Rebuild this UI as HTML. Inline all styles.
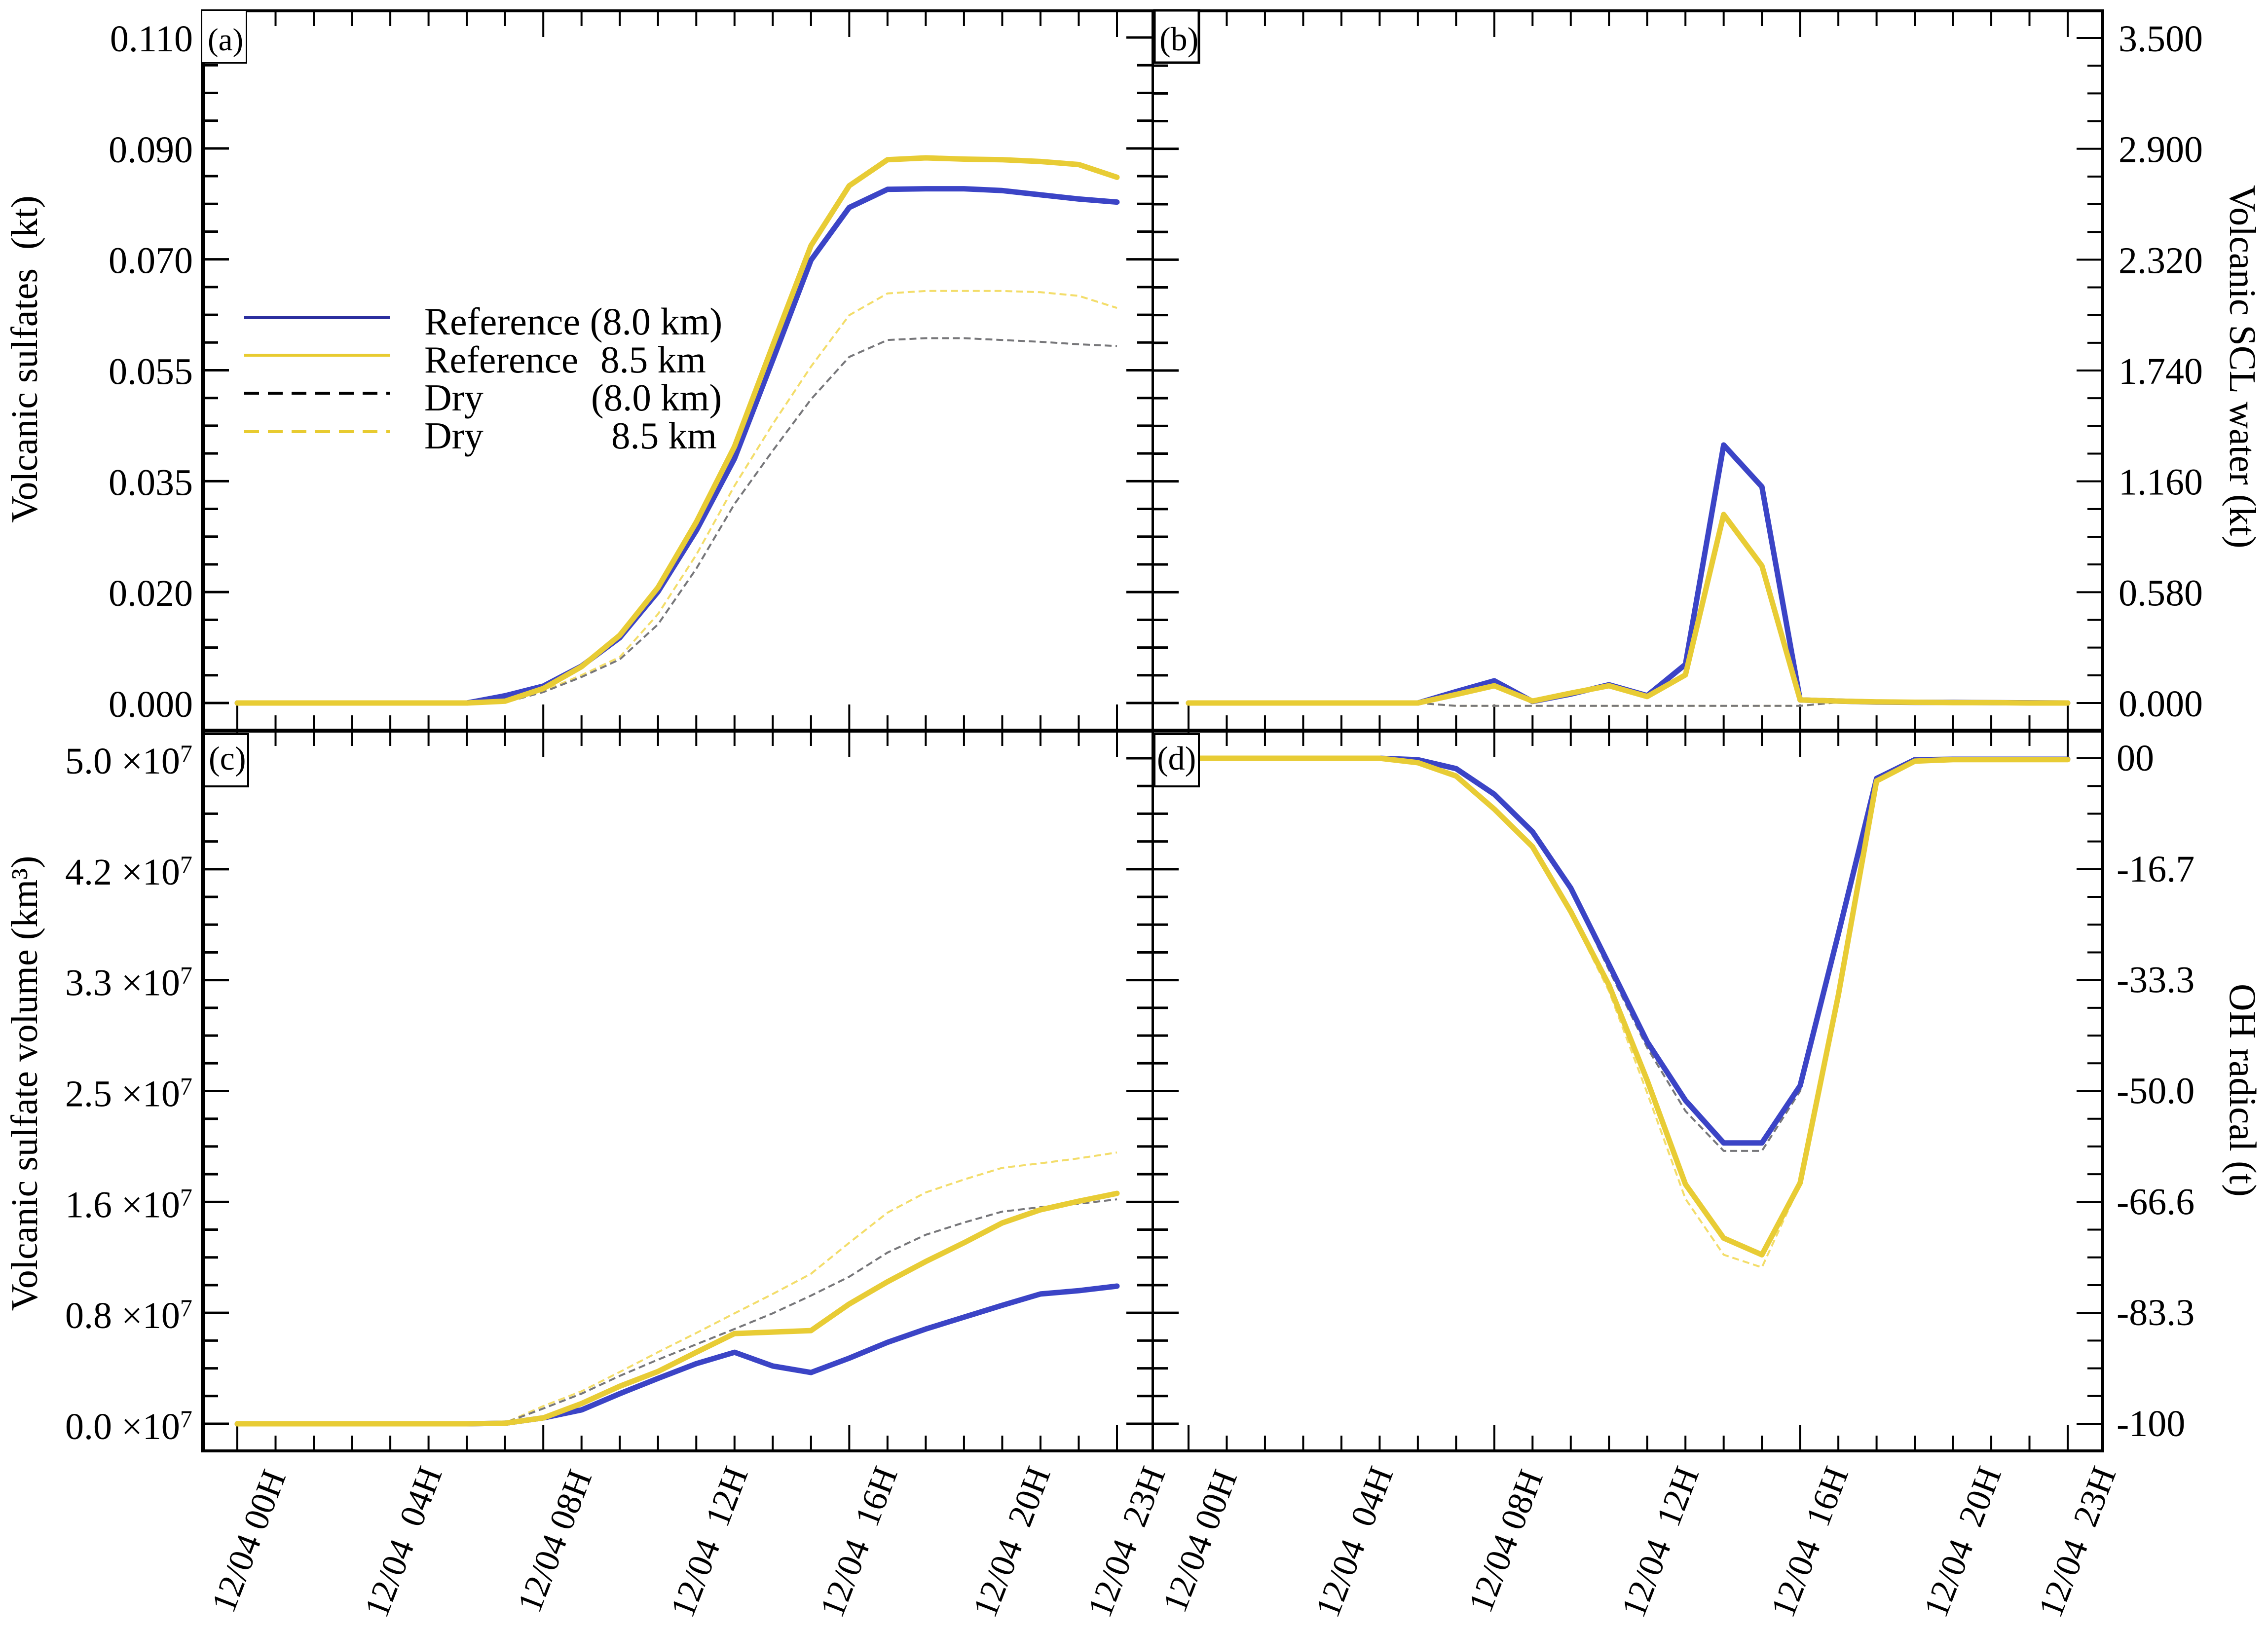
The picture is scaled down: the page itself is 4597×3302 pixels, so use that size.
<!DOCTYPE html>
<html lang="en">
<head>
<meta charset="utf-8">
<title>Volcanic sulfates, SCL water, sulfate volume and OH radical</title>
<style>
html,body{margin:0;padding:0;background:#fff;}
svg{display:block;}
text{font-family:"Liberation Serif","Noto Serif CJK SC",serif;fill:#000;white-space:pre;}
</style>
</head>
<body>
<svg id="chart" xmlns="http://www.w3.org/2000/svg" width="4597" height="3302" viewBox="0 0 4597 3302">
<rect x="0" y="0" width="4597" height="3302" fill="#ffffff"/>
<g id="ticks"></g>
<g id="series"></g>
<g id="frame">
<rect x="407" y="19" width="8" height="2925" fill="#000"/>
<rect x="4259" y="19" width="6" height="2925" fill="#000"/>
<rect x="407" y="19" width="3858" height="6" fill="#000"/>
<rect x="407" y="2938" width="3858" height="6" fill="#000"/>
<rect x="407" y="1477" width="3858" height="8" fill="#000"/>
<rect x="2334" y="19" width="5" height="2925" fill="#000"/>
</g>
<g id="tick-labels"></g>

<g>
<rect x="408.5" y="20.5" width="91" height="107" fill="#fff" stroke="#000" stroke-width="3"/>
<text x="421" y="102" font-size="65">(a)</text>
</g>
<g>
<rect x="2340" y="21" width="90" height="106" fill="#fff" stroke="#000" stroke-width="5"/>
<text x="2350" y="102" font-size="68">(b)</text>
</g>
<g>
<rect x="413" y="1488" width="90" height="106" fill="#fff" stroke="#000" stroke-width="4"/>
<text x="423" y="1560" font-size="68">(c)</text>
</g>
<g>
<rect x="2340" y="1488" width="90" height="106" fill="#fff" stroke="#000" stroke-width="4"/>
<text x="2345" y="1560" font-size="68">(d)</text>
</g>

<g>
<line x1="495" x2="791" y1="644" y2="644" stroke="#2b2f9f" stroke-width="6"/>
<line x1="495" x2="791" y1="720" y2="720" stroke="#e8cb30" stroke-width="6"/>
<line x1="495" x2="791" y1="797" y2="797" stroke="#000" stroke-width="6" stroke-dasharray="30 18"/>
<line x1="495" x2="791" y1="875" y2="875" stroke="#e8cb30" stroke-width="6" stroke-dasharray="30 18"/>
<text font-size="78" x="860" y="678">Reference (8.0 km)</text>
<text font-size="77" y="755"><tspan x="860">Reference</tspan><tspan x="1217">8.5 km</tspan></text>
<text font-size="77" y="832"><tspan x="860">Dry</tspan><tspan x="1198">(8.0 km)</tspan></text>
<text font-size="77" y="909"><tspan x="860">Dry</tspan><tspan x="1239">8.5 km</tspan></text>
</g>

<text font-size="76" text-anchor="middle" transform="translate(75 728) rotate(-90)">Volcanic sulfates  (kt)</text>
<text font-size="76" text-anchor="middle" transform="translate(75 2196) rotate(-90)">Volcanic sulfate volume (km³)</text>
<text font-size="76" transform="translate(4520 375) rotate(90)">Volcanic SCL water (kt)</text>
<text font-size="77" transform="translate(4520 1994) rotate(90)">OH radical (t)</text>
</svg>

<script>
// Shared category axis (hours on 12/04)
var hours = [0,1,2,3,4,5,6,7,8,9,10,11,12,13,14,15,16,17,18,19,20,21,22,23];

// Panel (a) volcanic sulfates, kt
var aDomain = [0, 0.11];
var aTickLabels = ["0.000","0.020","0.035","0.055","0.070","0.090","0.110"];
var aBlue = [0,0,0,0,0,0,0,.0012,.0028,.0061,.0108,.0184,.0285,.0404,.0567,.0732,.0819,.0849,.0850,.0850,.0847,.0840,.0833,.0828];
var aYellow = [0,0,0,0,0,0,0,.0003,.0024,.0060,.0112,.0191,.0299,.0424,.0591,.0756,.0855,.0898,.0901,.0899,.0898,.0895,.0890,.0869];
var aGrey = [0,0,0,0,0,0,0,.0001,.0018,.0043,.0072,.0130,.0222,.0329,.0417,.0502,.0572,.0600,.0603,.0603,.0600,.0597,.0593,.0590];
var aYellowDry = [0,0,0,0,0,0,0,.0001,.0020,.0046,.0076,.0147,.0245,.0359,.0461,.0556,.0641,.0677,.0681,.0681,.0681,.0679,.0673,.0653];

// Panel (b) volcanic SCL water, kt
var bDomain = [0, 3.5];
var bTickLabels = ["0.000","0.580","1.160","1.740","2.320","2.900","3.500"];
var bBlue = [0,0,0,0,0,0,0,.06,.117,.008,.047,.096,.039,.203,1.358,1.138,.016,.010,.005,.003,.003,.002,.001,0];
var bYellow = [0,0,0,0,0,0,0,.045,.091,.010,.052,.091,.034,.148,.992,.722,.016,.010,.006,.004,.002,.002,0,0];
var bGrey = [0,0,0,0,0,0,0,-.015,-.015,-.015,-.015,-.015,-.015,-.015,-.015,-.015,-.015,.004,.002,.001,0,0,0,0];
var bYellowDry = [0,0,0,0,0,0,0,-.015,-.015,-.015,-.015,-.015,-.015,-.015,-.015,-.015,-.015,.004,.002,.001,0,0,0,0];

// Panel (c) volcanic sulfate volume, 10^7 km3
var cDomain = [0, 5];
var cTickLabels = ["0.0","0.8","1.6","2.5","3.3","4.2","5.0"];
var cBlue = [0,0,0,0,0,0,0,.004,.044,.104,.226,.341,.452,.537,.434,.385,.493,.612,.712,.801,.890,.975,1.000,1.034];
var cYellow = [0,0,0,0,0,0,0,.004,.044,.152,.282,.393,.537,.678,.689,.700,.900,1.067,1.219,1.360,1.509,1.608,1.672,1.731];
var cGrey = [0,0,0,0,0,0,0,.007,.115,.226,.360,.482,.597,.712,.830,.963,1.105,1.286,1.420,1.512,1.594,1.627,1.653,1.686];
var cYellowDry = [0,0,0,0,0,0,0,.007,.133,.244,.389,.538,.682,.830,.975,1.127,1.360,1.586,1.738,1.835,1.923,1.957,1.994,2.038];

// Panel (d) OH radical, t
var dDomain = [-100, 0];
var dTickLabels = ["-100","-83.3","-66.6","-50.0","-33.3","-16.7","00"];
var dBlue = [0,0,0,0,0,0,-.22,-1.56,-5.41,-11.05,-19.5,-31.0,-42.6,-51.4,-57.8,-57.8,-49.2,-26.4,-3.04,-.22,-.15,-.15,-.15,-.15];
var dYellow = [0,0,0,0,0,0,-.67,-2.67,-7.64,-13.3,-23.05,-34.1,-48.4,-64.0,-72.1,-74.6,-63.8,-35.6,-3.41,-.44,-.2,-.2,-.2,-.2];
var dGrey = [0,0,0,0,0,0,-.22,-1.56,-5.41,-11.05,-19.8,-31.8,-43.5,-53.0,-59.0,-59.0,-50.0,-26.6,-3.04,-.22,-.15,-.15,-.15,-.15];
var dYellowDry = [0,0,0,0,0,0,-.67,-2.67,-7.64,-13.5,-23.4,-35.0,-50.3,-66.2,-74.6,-76.5,-64.0,-36.5,-3.5,-.44,-.2,-.2,-.2,-.2];

// Date tick labels
var xTickLabels = ["12/04 00H","12/04  04H","12/04 08H","12/04  12H","12/04  16H","12/04  20H","12/04  23H"];
var xTickHours = [0,4,8,12,16,20,23];

var NS = "http://www.w3.org/2000/svg";
var tickLayer = document.getElementById("ticks");
var seriesLayer = document.getElementById("series");
var labelLayer = document.getElementById("tick-labels");

function make(tag, parent, attrs) {
  var el = document.createElementNS(NS, tag);
  for (var k in attrs) { el.setAttribute(k, attrs[k]); }
  parent.appendChild(el);
  return el;
}
function linear(d0, d1, r0, r1) {
  return function (v) { return r0 + (v - d0) / (d1 - d0) * (r1 - r0); };
}

var xLeft = linear(0, 23, 481, 2264);
var xRight = linear(0, 23, 2409, 4191);
var yA = linear(aDomain[0], aDomain[1], 1425, 76);
var yB = linear(bDomain[0], bDomain[1], 1425, 77);
var yC = linear(cDomain[0], cDomain[1], 2886, 1537);
var yD = linear(dDomain[0], dDomain[1], 2886, 1537);

function drawXTicks(xf, yEdge, dir, prefix) {
  hours.forEach(function (h) {
    var major = h % 8 === 0 || h === 23;
    var len = major ? 53 : 31;
    var t = make("line", tickLayer, {x1: xf(h), x2: xf(h), y1: yEdge, y2: yEdge + dir * len, stroke: "#000", "stroke-width": 4});
    
    
  });
}
function drawYTicks(scale, domain, xEdge, dir, weight, prefix) {
  for (var i = 0; i <= 24; i++) {
    var major = i % 4 === 0;
    var v = domain[0] + (domain[1] - domain[0]) * i / 24;
    var len = major ? 53 : 31;
    var t = make("line", tickLayer, {x1: xEdge, x2: xEdge + dir * len, y1: scale(v), y2: scale(v), stroke: "#000", "stroke-width": weight});
    
    
  }
}
function drawLine(values, xf, yf, stroke, width, dash, name) {
  var pts = values.map(function (v, i) { return xf(hours[i]).toFixed(1) + "," + yf(v).toFixed(1); }).join(" ");
  var attrs = {points: pts, fill: "none", stroke: stroke, "stroke-width": width, "stroke-linejoin": "round", "stroke-linecap": dash ? "butt" : "round"};
  if (dash) { attrs["stroke-dasharray"] = dash; }
  var p = make("polyline", seriesLayer, attrs);
  
  
}
function drawPanel(prefix, xf, yf, dry8, dry85, ref8, ref85) {
  drawLine(dry85, xf, yf, "#f3dd6a", 4, "14 8", prefix + "-dry-8-5-line");
  drawLine(dry8, xf, yf, "#77777a", 4, "14 8", prefix + "-dry-8-0-line");
  drawLine(ref8, xf, yf, "#3b44c6", 11, null, prefix + "-reference-8-0-line");
  drawLine(ref85, xf, yf, "#e8cc35", 11, null, prefix + "-reference-8-5-line");
}

// x ticks on top/bottom edges of each panel
drawXTicks(xLeft, 22, 1, "panel-a-top");
drawXTicks(xLeft, 1481, -1, "panel-a-bottom");
drawXTicks(xLeft, 1481, 1, "panel-c-top");
drawXTicks(xLeft, 2941, -1, "panel-c-bottom");
drawXTicks(xRight, 22, 1, "panel-b-top");
drawXTicks(xRight, 1481, -1, "panel-b-bottom");
drawXTicks(xRight, 1481, 1, "panel-d-top");
drawXTicks(xRight, 2941, -1, "panel-d-bottom");

// y ticks on left/right edges of each panel
drawYTicks(yA, aDomain, 411, 1, 5, "panel-a-left");
drawYTicks(yA, aDomain, 2336, -1, 5, "panel-a-right");
drawYTicks(yB, bDomain, 2336, 1, 5, "panel-b-left");
drawYTicks(yB, bDomain, 4262, -1, 4, "panel-b-right");
drawYTicks(yC, cDomain, 411, 1, 5, "panel-c-left");
drawYTicks(yC, cDomain, 2336, -1, 5, "panel-c-right");
drawYTicks(yD, dDomain, 2336, 1, 5, "panel-d-left");
drawYTicks(yD, dDomain, 4262, -1, 4, "panel-d-right");

// series
drawPanel("panel-a", xLeft, yA, aGrey, aYellowDry, aBlue, aYellow);
drawPanel("panel-b", xRight, yB, bGrey, bYellowDry, bBlue, bYellow);
drawPanel("panel-c", xLeft, yC, cGrey, cYellowDry, cBlue, cYellow);
drawPanel("panel-d", xRight, yD, dGrey, dYellowDry, dBlue, dYellow);

// y tick labels
function majorValue(domain, i) { return domain[0] + (domain[1] - domain[0]) * i / 6; }
aTickLabels.forEach(function (s, i) {
  var t = make("text", labelLayer, {x: 391, y: yA(majorValue(aDomain, i)) + 28, "font-size": 76, "text-anchor": "end"});
  t.textContent = s;
  
  
});
bTickLabels.forEach(function (s, i) {
  var t = make("text", labelLayer, {x: 4294, y: yB(majorValue(bDomain, i)) + 27, "font-size": 76});
  t.textContent = s;
  
  
});
cTickLabels.forEach(function (s, i) {
  var t = make("text", labelLayer, {x: 132, y: yC(majorValue(cDomain, i)) + 31, "font-size": 76});
  t.textContent = s + " ×10";
  var sup = make("tspan", t, {"font-size": 50, dy: -24});
  sup.textContent = "7";
  
  
});
dTickLabels.forEach(function (s, i) {
  var t = make("text", labelLayer, {x: 4290, y: yD(majorValue(dDomain, i)) + 25, "font-size": 76});
  t.textContent = s;
  
  
});

// x tick labels (rotated)
function drawXLabels(xf, prefix) {
  xTickLabels.forEach(function (s, i) {
    var two = s.indexOf("  ") >= 0;
    var bx = xf(xTickHours[i]) - (i >= 4 ? 16 : 9);
    var by = two ? 3283 : 3273;
    var t = make("text", labelLayer, {"font-size": 71, transform: "translate(" + bx + " " + by + ") rotate(-69)"});
    t.textContent = s;
    
    
  });
}
drawXLabels(xLeft, "panel-c");
drawXLabels(xRight, "panel-d");
</script>
</body>
</html>
